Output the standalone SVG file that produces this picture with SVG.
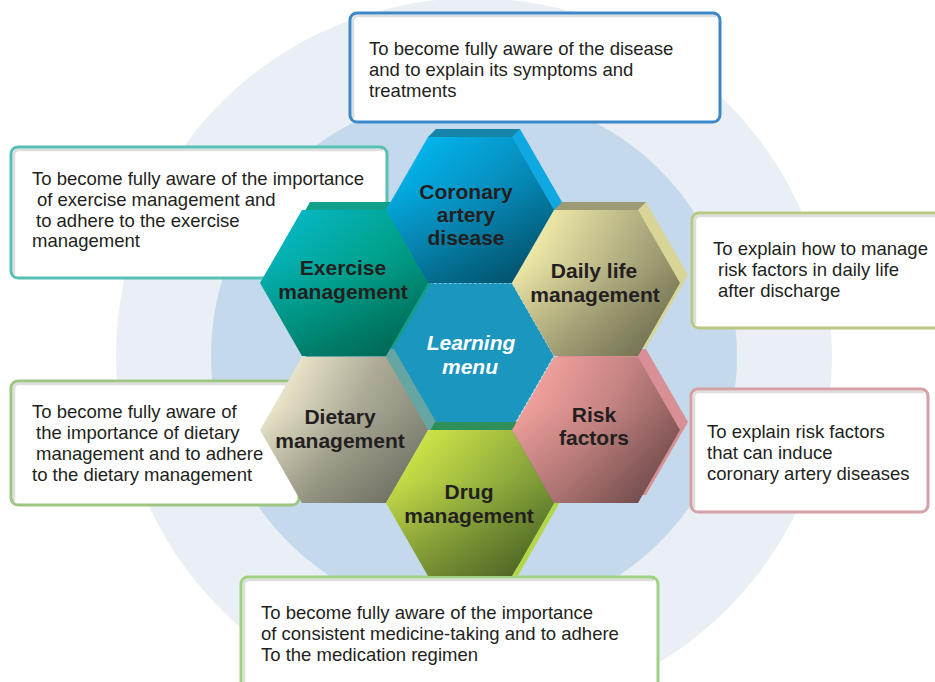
<svg xmlns="http://www.w3.org/2000/svg" width="935" height="682" viewBox="0 0 935 682">
<defs>
<style>
.bt{font-family:"Liberation Sans",Arial,sans-serif;font-size:18.5px;fill:#231f20}
.hl{font-family:"Liberation Sans",Arial,sans-serif;font-size:21px;font-weight:bold;fill:#231f20;text-anchor:middle}
.hc{font-family:"Liberation Sans",Arial,sans-serif;font-size:21px;font-weight:bold;font-style:italic;fill:#ffffff;text-anchor:middle}
.box{fill:#ffffff;stroke-width:3}
.ish{fill:none;stroke:#000;stroke-opacity:0.13;stroke-width:2.5}
</style>
<polygon id="hx" points="-84,0 -42,-73 42,-73 84,0 42,73 -42,73"/>
<linearGradient id="gCor" x1="0.1" y1="0.1" x2="0.9" y2="0.9">
<stop offset="0" stop-color="#00b6ef"/><stop offset="0.45" stop-color="#0792c2"/><stop offset="1" stop-color="#02607f"/>
</linearGradient>
<linearGradient id="gExe" x1="0.1" y1="0.1" x2="0.9" y2="0.9">
<stop offset="0" stop-color="#06b7c4"/><stop offset="0.5" stop-color="#00a28d"/><stop offset="1" stop-color="#007a64"/>
</linearGradient>
<linearGradient id="gDai" x1="0.05" y1="0.3" x2="0.95" y2="0.7">
<stop offset="0" stop-color="#f3eda9"/><stop offset="0.5" stop-color="#bab687"/><stop offset="1" stop-color="#85845f"/>
</linearGradient>
<linearGradient id="gDie" x1="0.05" y1="0.3" x2="0.95" y2="0.7">
<stop offset="0" stop-color="#eeeacd"/><stop offset="0.5" stop-color="#adab97"/><stop offset="1" stop-color="#838576"/>
</linearGradient>
<linearGradient id="gRis" x1="0.05" y1="0.3" x2="0.95" y2="0.7">
<stop offset="0" stop-color="#f4a29e"/><stop offset="0.5" stop-color="#c58482"/><stop offset="1" stop-color="#855859"/>
</linearGradient>
<linearGradient id="gDru" x1="0.1" y1="0.2" x2="0.9" y2="0.85">
<stop offset="0" stop-color="#cde247"/><stop offset="0.5" stop-color="#93b03e"/><stop offset="1" stop-color="#5e7a2c"/>
</linearGradient>
<linearGradient id="shade" x1="0" y1="0" x2="0" y2="1">
<stop offset="0.35" stop-color="#000" stop-opacity="0"/><stop offset="1" stop-color="#000" stop-opacity="0.16"/>
</linearGradient>
</defs>
<rect width="935" height="682" fill="#ffffff"/>
<g id="background">
<circle cx="474" cy="356" r="358" fill="#e9eff5"/>
<circle cx="474" cy="356" r="263" fill="#c4daec"/>
</g>
<g id="connectors"/>

<g id="box-coronary">
<rect class="box" x="350" y="13" width="370" height="109" rx="7" stroke="#3b88c9"/>
<path class="ish" d="M353,118 V21 Q353,16 358,16 H716"/>
<text class="bt"><tspan x="369" y="55">To become fully aware of the disease</tspan><tspan x="369" y="76">and to explain its symptoms and</tspan><tspan x="369" y="97">treatments</tspan></text>
</g>
<g id="box-exercise">
<rect class="box" x="11" y="147" width="376" height="131" rx="7" stroke="#55c0b3"/>
<path class="ish" d="M14,274 V155 Q14,150 19,150 H383"/>
<text class="bt"><tspan x="32" y="185">To become fully aware of the importance</tspan><tspan x="37" y="206">of exercise management and</tspan><tspan x="36" y="226.5">to adhere to the exercise</tspan><tspan x="32" y="247">management</tspan></text>
</g>
<g id="box-daily">
<rect class="box" x="692" y="213" width="260" height="115" rx="7" stroke="#b9c882"/>
<path class="ish" d="M695,324 V221 Q695,216 700,216 H935"/>
<text class="bt"><tspan x="713" y="255">To explain how to manage</tspan><tspan x="718" y="276">risk factors in daily life</tspan><tspan x="718" y="297">after discharge</tspan></text>
</g>
<g id="box-dietary">
<rect class="box" x="11" y="381" width="288" height="124" rx="7" stroke="#9fc582"/>
<path class="ish" d="M14,501 V389 Q14,384 19,384 H295"/>
<text class="bt"><tspan x="32" y="418">To become fully aware of</tspan><tspan x="36" y="439">the importance of dietary</tspan><tspan x="36" y="460">management and to adhere</tspan><tspan x="32" y="481">to the dietary management</tspan></text>
</g>
<g id="box-risk">
<rect class="box" x="691" y="389" width="237" height="123" rx="7" stroke="#d5a0a6"/>
<path class="ish" d="M694,508 V397 Q694,392 699,392 H924"/>
<text class="bt"><tspan x="707" y="438">To explain risk factors</tspan><tspan x="707" y="459">that can induce</tspan><tspan x="707" y="480">coronary artery diseases</tspan></text>
</g>
<g id="box-drug">
<rect class="box" x="241" y="577" width="417" height="120" rx="7" stroke="#a0d283"/>
<path class="ish" d="M244,682 V585 Q244,580 249,580 H654"/>
<text class="bt"><tspan x="261" y="619">To become fully aware of the importance</tspan><tspan x="261" y="640">of consistent medicine-taking and to adhere</tspan><tspan x="261" y="661">To the medication regimen</tspan></text>
</g>

<g id="hex-learning" transform="translate(470,356)">
<use href="#hx" fill="#1a96bf"/>
<use href="#hx" fill="none" stroke="#d6ecf2" stroke-width="1" stroke-dasharray="3 2"/>
<text class="hc"><tspan x="1" y="-6">Learning</tspan><tspan x="0" y="18">menu</tspan></text>
</g>
<g id="hex-dietary" transform="translate(344,430)">
<use href="#hx" transform="translate(8,-8)" fill="#66a6a2"/>
<use href="#hx" fill="url(#gDie)"/>
<use href="#hx" fill="url(#shade)"/>
<text class="hl"><tspan x="-4" y="-6">Dietary</tspan><tspan x="-4" y="18">management</tspan></text>
</g>
<g id="hex-drug" transform="translate(470,503)">
<use href="#hx" transform="translate(7,-8)" fill="#2e9058"/>
<polygon points="84,0 91,-3 48,73 42,73" fill="#b4d64a"/>
<use href="#hx" fill="url(#gDru)"/>
<use href="#hx" fill="url(#shade)"/>
<text class="hl"><tspan x="-1" y="-4">Drug</tspan><tspan x="-1" y="20">management</tspan></text>
</g>
<g id="hex-exercise" transform="translate(344,283)">
<use href="#hx" transform="translate(8,-8)" fill="#12a08c"/>
<use href="#hx" fill="url(#gExe)"/>
<use href="#hx" fill="url(#shade)"/>
<text class="hl"><tspan x="-1" y="-8">Exercise</tspan><tspan x="-1" y="16">management</tspan></text>
</g>
<g id="hex-risk" transform="translate(596,430)">
<use href="#hx" transform="translate(8,-8)" fill="#d98f96"/>
<use href="#hx" fill="url(#gRis)"/>
<use href="#hx" fill="url(#shade)"/>
<text class="hl"><tspan x="-2" y="-8">Risk</tspan><tspan x="-2" y="15">factors</tspan></text>
</g>
<g id="hex-coronary" transform="translate(470,210)">
<use href="#hx" transform="translate(8,-8)" fill="#10a8e0"/>
<polygon points="-42,-73 42,-73 50,-81 -34,-81" fill="#1584aa"/>
<use href="#hx" fill="url(#gCor)"/>
<use href="#hx" fill="url(#shade)"/>
<text class="hl"><tspan x="-4" y="-11">Coronary</tspan><tspan x="-4" y="12">artery</tspan><tspan x="-4" y="35">disease</tspan></text>
</g>
<g id="hex-daily" transform="translate(596,283)">
<use href="#hx" transform="translate(8,-8)" fill="#d8d596"/>
<polygon points="-42,-73 42,-73 50,-81 -34,-81" fill="#9c9b73"/>
<use href="#hx" fill="url(#gDai)"/>
<use href="#hx" fill="url(#shade)"/>
<text class="hl"><tspan x="-2" y="-5">Daily life</tspan><tspan x="-1" y="19">management</tspan></text>
</g>
</svg>
